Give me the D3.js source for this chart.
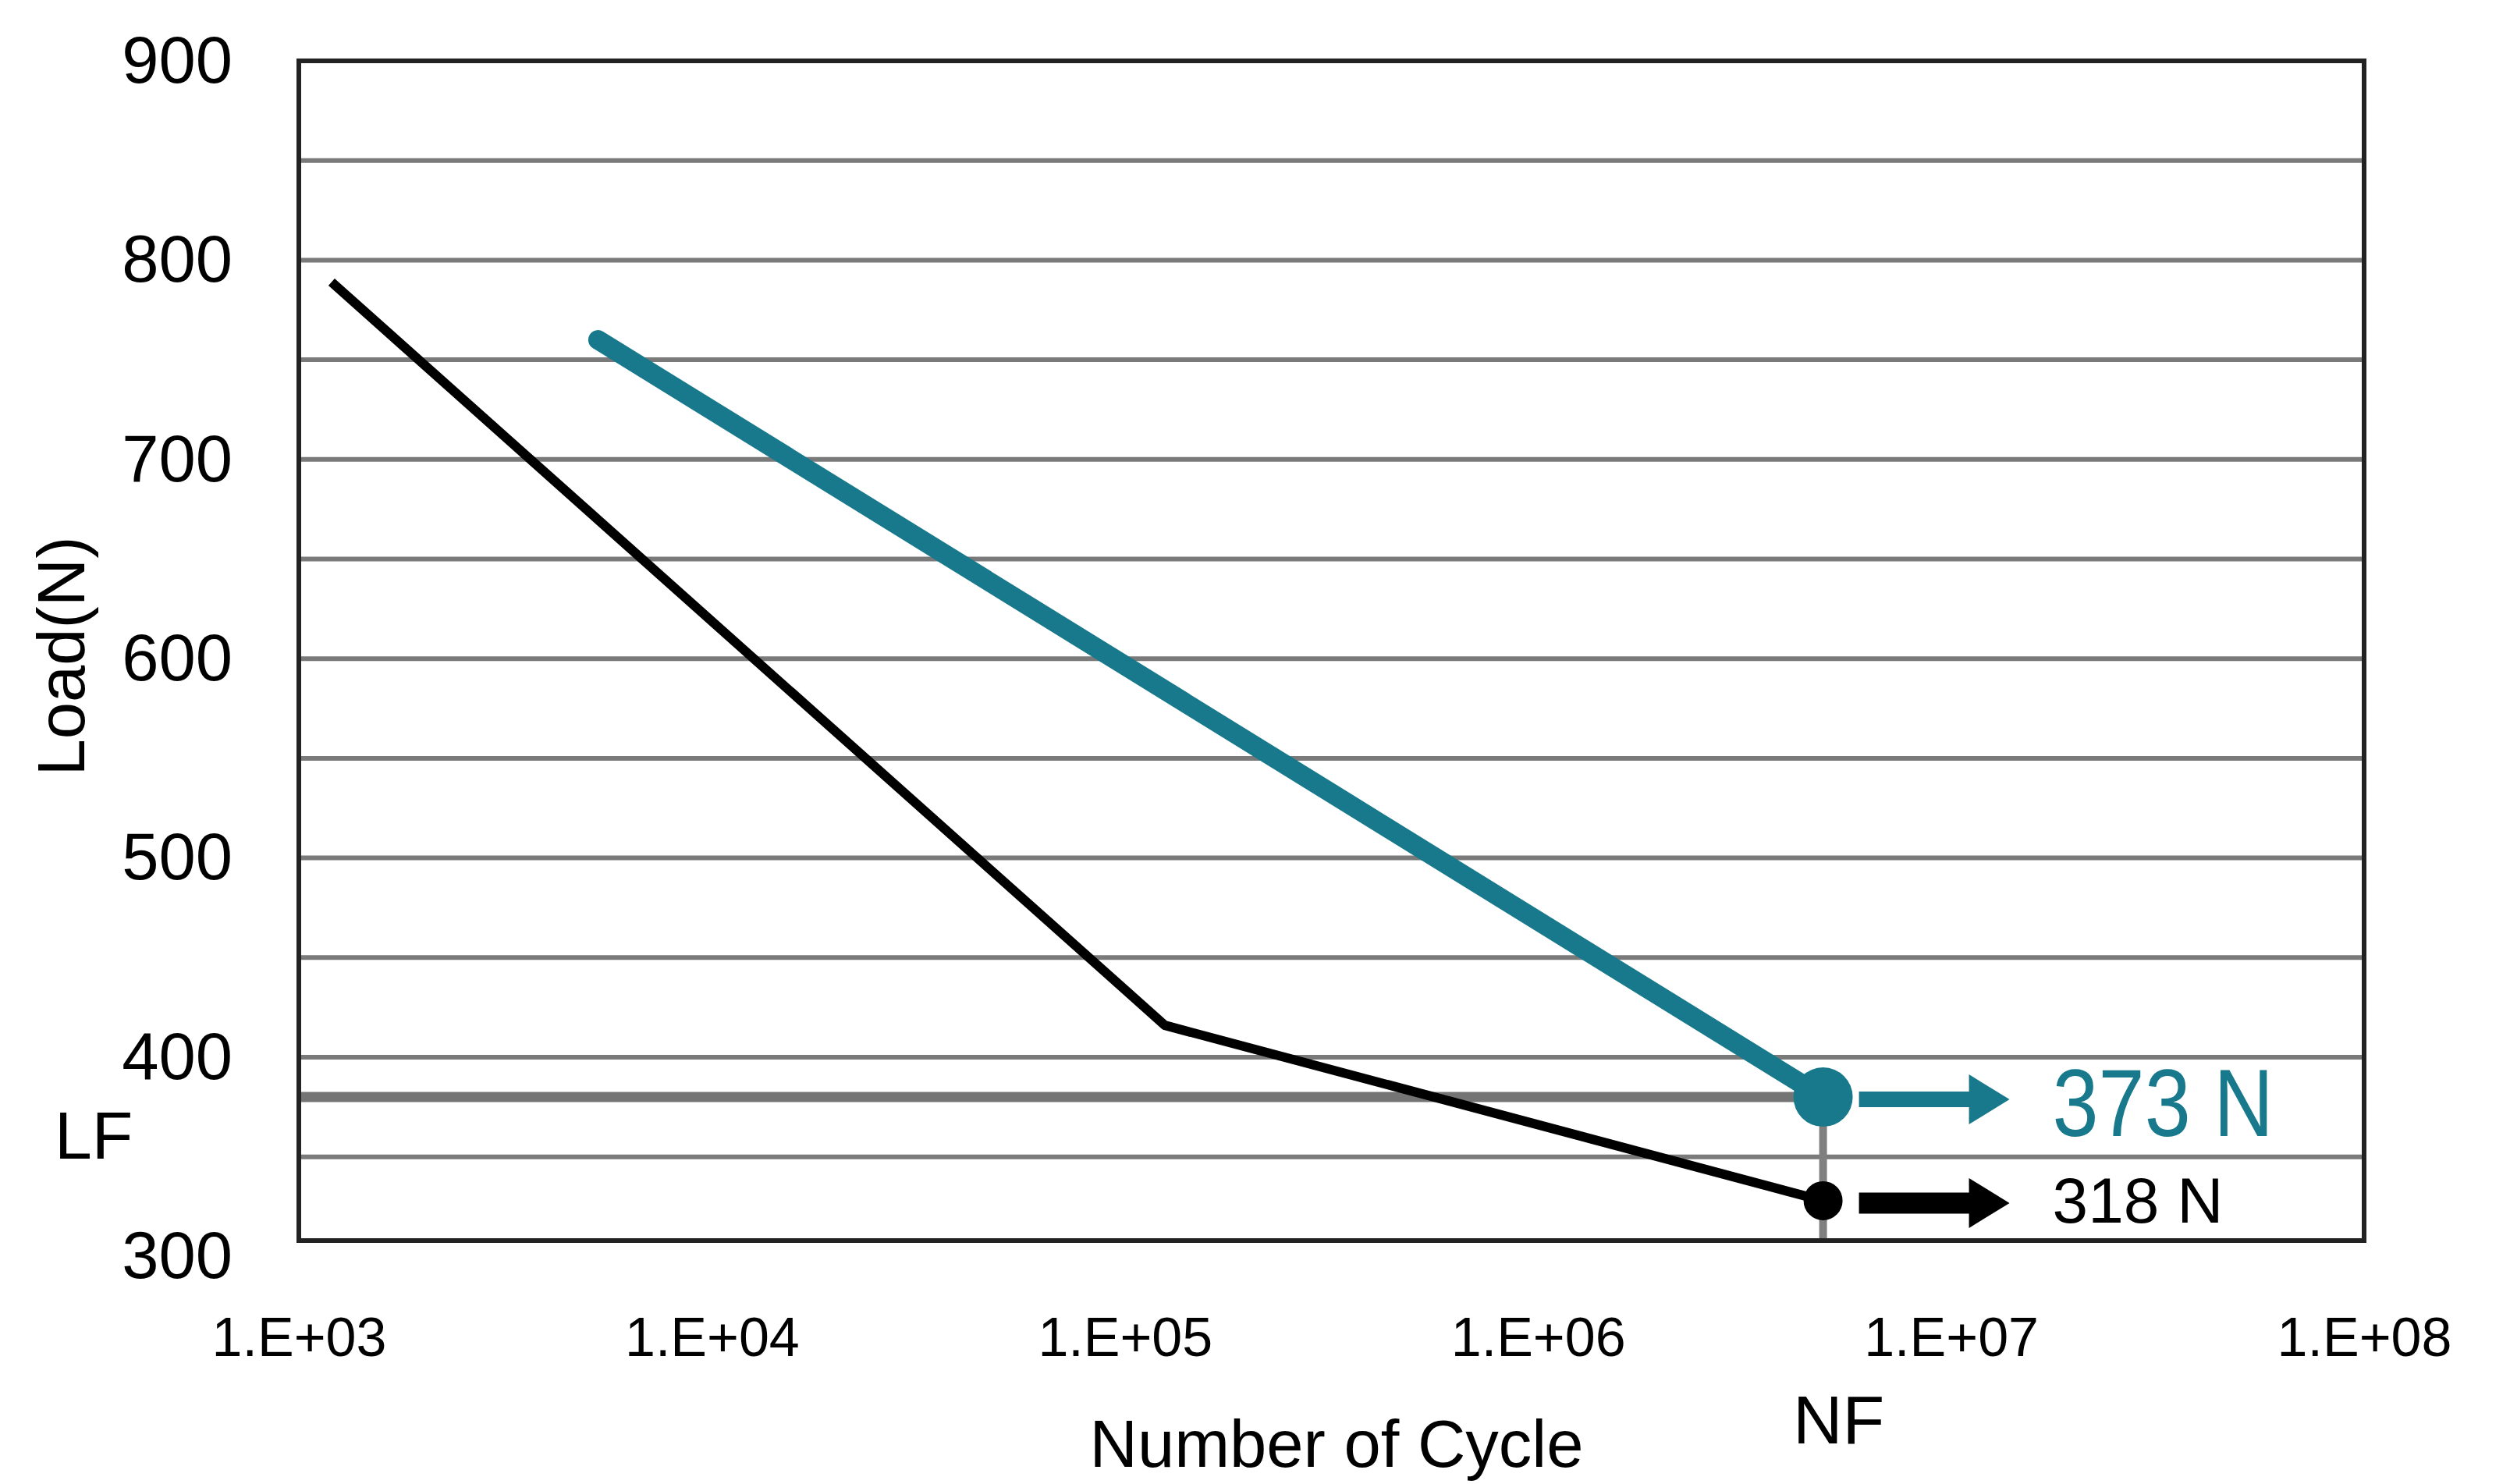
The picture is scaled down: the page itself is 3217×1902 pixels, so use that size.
<!DOCTYPE html>
<style>
body { margin: 0; background: #fff; }
text { font-family: "Liberation Sans", Arial, sans-serif; }
</style>

<svg id="chart" width="3217" height="1902"></svg>
<script src="https://cdn.jsdelivr.net/npm/d3@7"></script>

<script>
// S-N curve, values
var cycleTicks = [1e3, 1e4, 1e5, 1e6, 1e7, 1e8];
var loadTicks = [300, 400, 500, 600, 700, 800, 900];
var gridLoads = [350, 400, 450, 500, 550, 600, 650, 700, 750, 800, 850];

var blackCycles = [1.2e3, 1.25e5, 4.9e6];
var blackLoads = [789, 416, 328];
var tealCycles = [5.3e3, 4.9e6];
var tealLoads = [760, 380];

var limitLoad = 380;      // LF
var limitCycles = 4.9e6;  // NF
var endLabels = ["373 N", "318 N"];

var teal = "#17798b";

var svg = d3.select("svg");
var margin = {top: 78, right: 187, bottom: 312, left: 383};
var width = +svg.attr("width") - margin.left - margin.right;
var height = +svg.attr("height") - margin.top - margin.bottom;
var g = svg.append("g").attr("transform", "translate(" + margin.left + "," + margin.top + ")");

var x = d3.scaleLog().domain([1e3, 1e8]).range([0, width]);
var y = d3.scaleLinear().domain([308, 900]).range([height, 0]); // bottom edge sits a bit above 300

// horizontal gridlines
g.append("g").selectAll("line")
    .data(gridLoads)
  .enter().append("line")
    .attr("x1", 0)
    .attr("x2", width)
    .attr("y1", function(d) { return y(d); })
    .attr("y2", function(d) { return y(d); })
    .attr("stroke", "#7a7a7a")
    .attr("stroke-width", 6);

// LF and NF guide lines
g.append("line")
    .attr("x1", 0)
    .attr("x2", x(limitCycles))
    .attr("y1", y(limitLoad))
    .attr("y2", y(limitLoad))
    .attr("stroke", "#747474")
    .attr("stroke-width", 13);

g.append("line")
    .attr("x1", x(limitCycles))
    .attr("x2", x(limitCycles))
    .attr("y1", y(limitLoad))
    .attr("y2", height + 3)
    .attr("stroke", "#808080")
    .attr("stroke-width", 10);

// plot frame
g.append("rect")
    .attr("width", width)
    .attr("height", height)
    .attr("fill", "none")
    .attr("stroke", "#222")
    .attr("stroke-width", 6);

// axes
var yAxis = g.append("g")
    .call(d3.axisLeft(y).tickValues(loadTicks).tickSize(0).tickPadding(85));
yAxis.select(".domain").remove();
yAxis.selectAll("text")
    .attr("font-size", 85)
    .attr("fill", "#000");

var xAxis = g.append("g")
    .attr("transform", "translate(0," + height + ")")
    .call(d3.axisBottom(x).tickValues(cycleTicks).tickSize(0).tickPadding(98)
      .tickFormat(function(d) { return "1.E+" + ("0" + Math.round(Math.log10(d))).slice(-2); }));
xAxis.select(".domain").remove();
xAxis.selectAll("text")
    .attr("font-size", 70)
    .attr("fill", "#000");

// curves
var line = d3.line()
    .x(function(d) { return x(d[0]); })
    .y(function(d) { return y(d[1]); });

g.append("path")
    .datum(d3.zip(blackCycles, blackLoads))
    .attr("d", line)
    .attr("fill", "none")
    .attr("stroke", "#000")
    .attr("stroke-width", 12)
    .attr("stroke-linejoin", "round");

g.append("path")
    .datum(d3.zip(tealCycles, tealLoads))
    .attr("d", line)
    .attr("fill", "none")
    .attr("stroke", teal)
    .attr("stroke-width", 25)
    .attr("stroke-linecap", "round");

// end points, arrows and labels
var ends = [
  {load: tealLoads[1], color: teal, r: 38, shaft: 20, label: endLabels[0], size: 122, sx: 0.87, dy: 50},
  {load: blackLoads[2], color: "#000", r: 25, shaft: 27, label: endLabels[1], size: 82, sx: 1, dy: 28}
];

ends.forEach(function(e) {
  var cx = x(limitCycles), cy = y(e.load);
  g.append("circle")
      .attr("cx", cx)
      .attr("cy", cy)
      .attr("r", e.r)
      .attr("fill", e.color);

  g.append("line")  // arrow shaft
      .attr("x1", cx + 46)
      .attr("x2", cx + 190)
      .attr("y1", cy + 3)
      .attr("y2", cy + 3)
      .attr("stroke", e.color)
      .attr("stroke-width", e.shaft);

  g.append("path")  // arrow head
      .attr("d", "M" + (cx + 187) + "," + (cy + 3 - 32) + "L" + (cx + 239) + "," + (cy + 3) +
                 "L" + (cx + 187) + "," + (cy + 3 + 32) + "Z")
      .attr("fill", e.color);

  g.append("text")
      .attr("transform", "translate(" + (cx + 294) + "," + (cy + e.dy) + ") scale(" + e.sx + ",1)")
      .attr("font-size", e.size)
      .attr("fill", e.color)
      .text(e.label);
});

// axis titles and markers
g.append("text")
    .attr("transform", "translate(" + (108 - margin.left) + "," + (841 - margin.top) + ") rotate(-90)")
    .attr("text-anchor", "middle")
    .attr("font-size", 85)
    .text("Load(N)");

g.append("text")
    .attr("x", 70 - margin.left)
    .attr("y", y(limitLoad) + 79)
    .attr("font-size", 86)
    .text("LF");

g.append("text")
    .attr("x", x(limitCycles) + 20)
    .attr("y", height + 260)
    .attr("text-anchor", "middle")
    .attr("font-size", 88)
    .text("NF");

g.append("text")
    .attr("x", 1330)
    .attr("y", height + 290)
    .attr("text-anchor", "middle")
    .attr("font-size", 85)
    .text("Number of Cycle");
</script>
